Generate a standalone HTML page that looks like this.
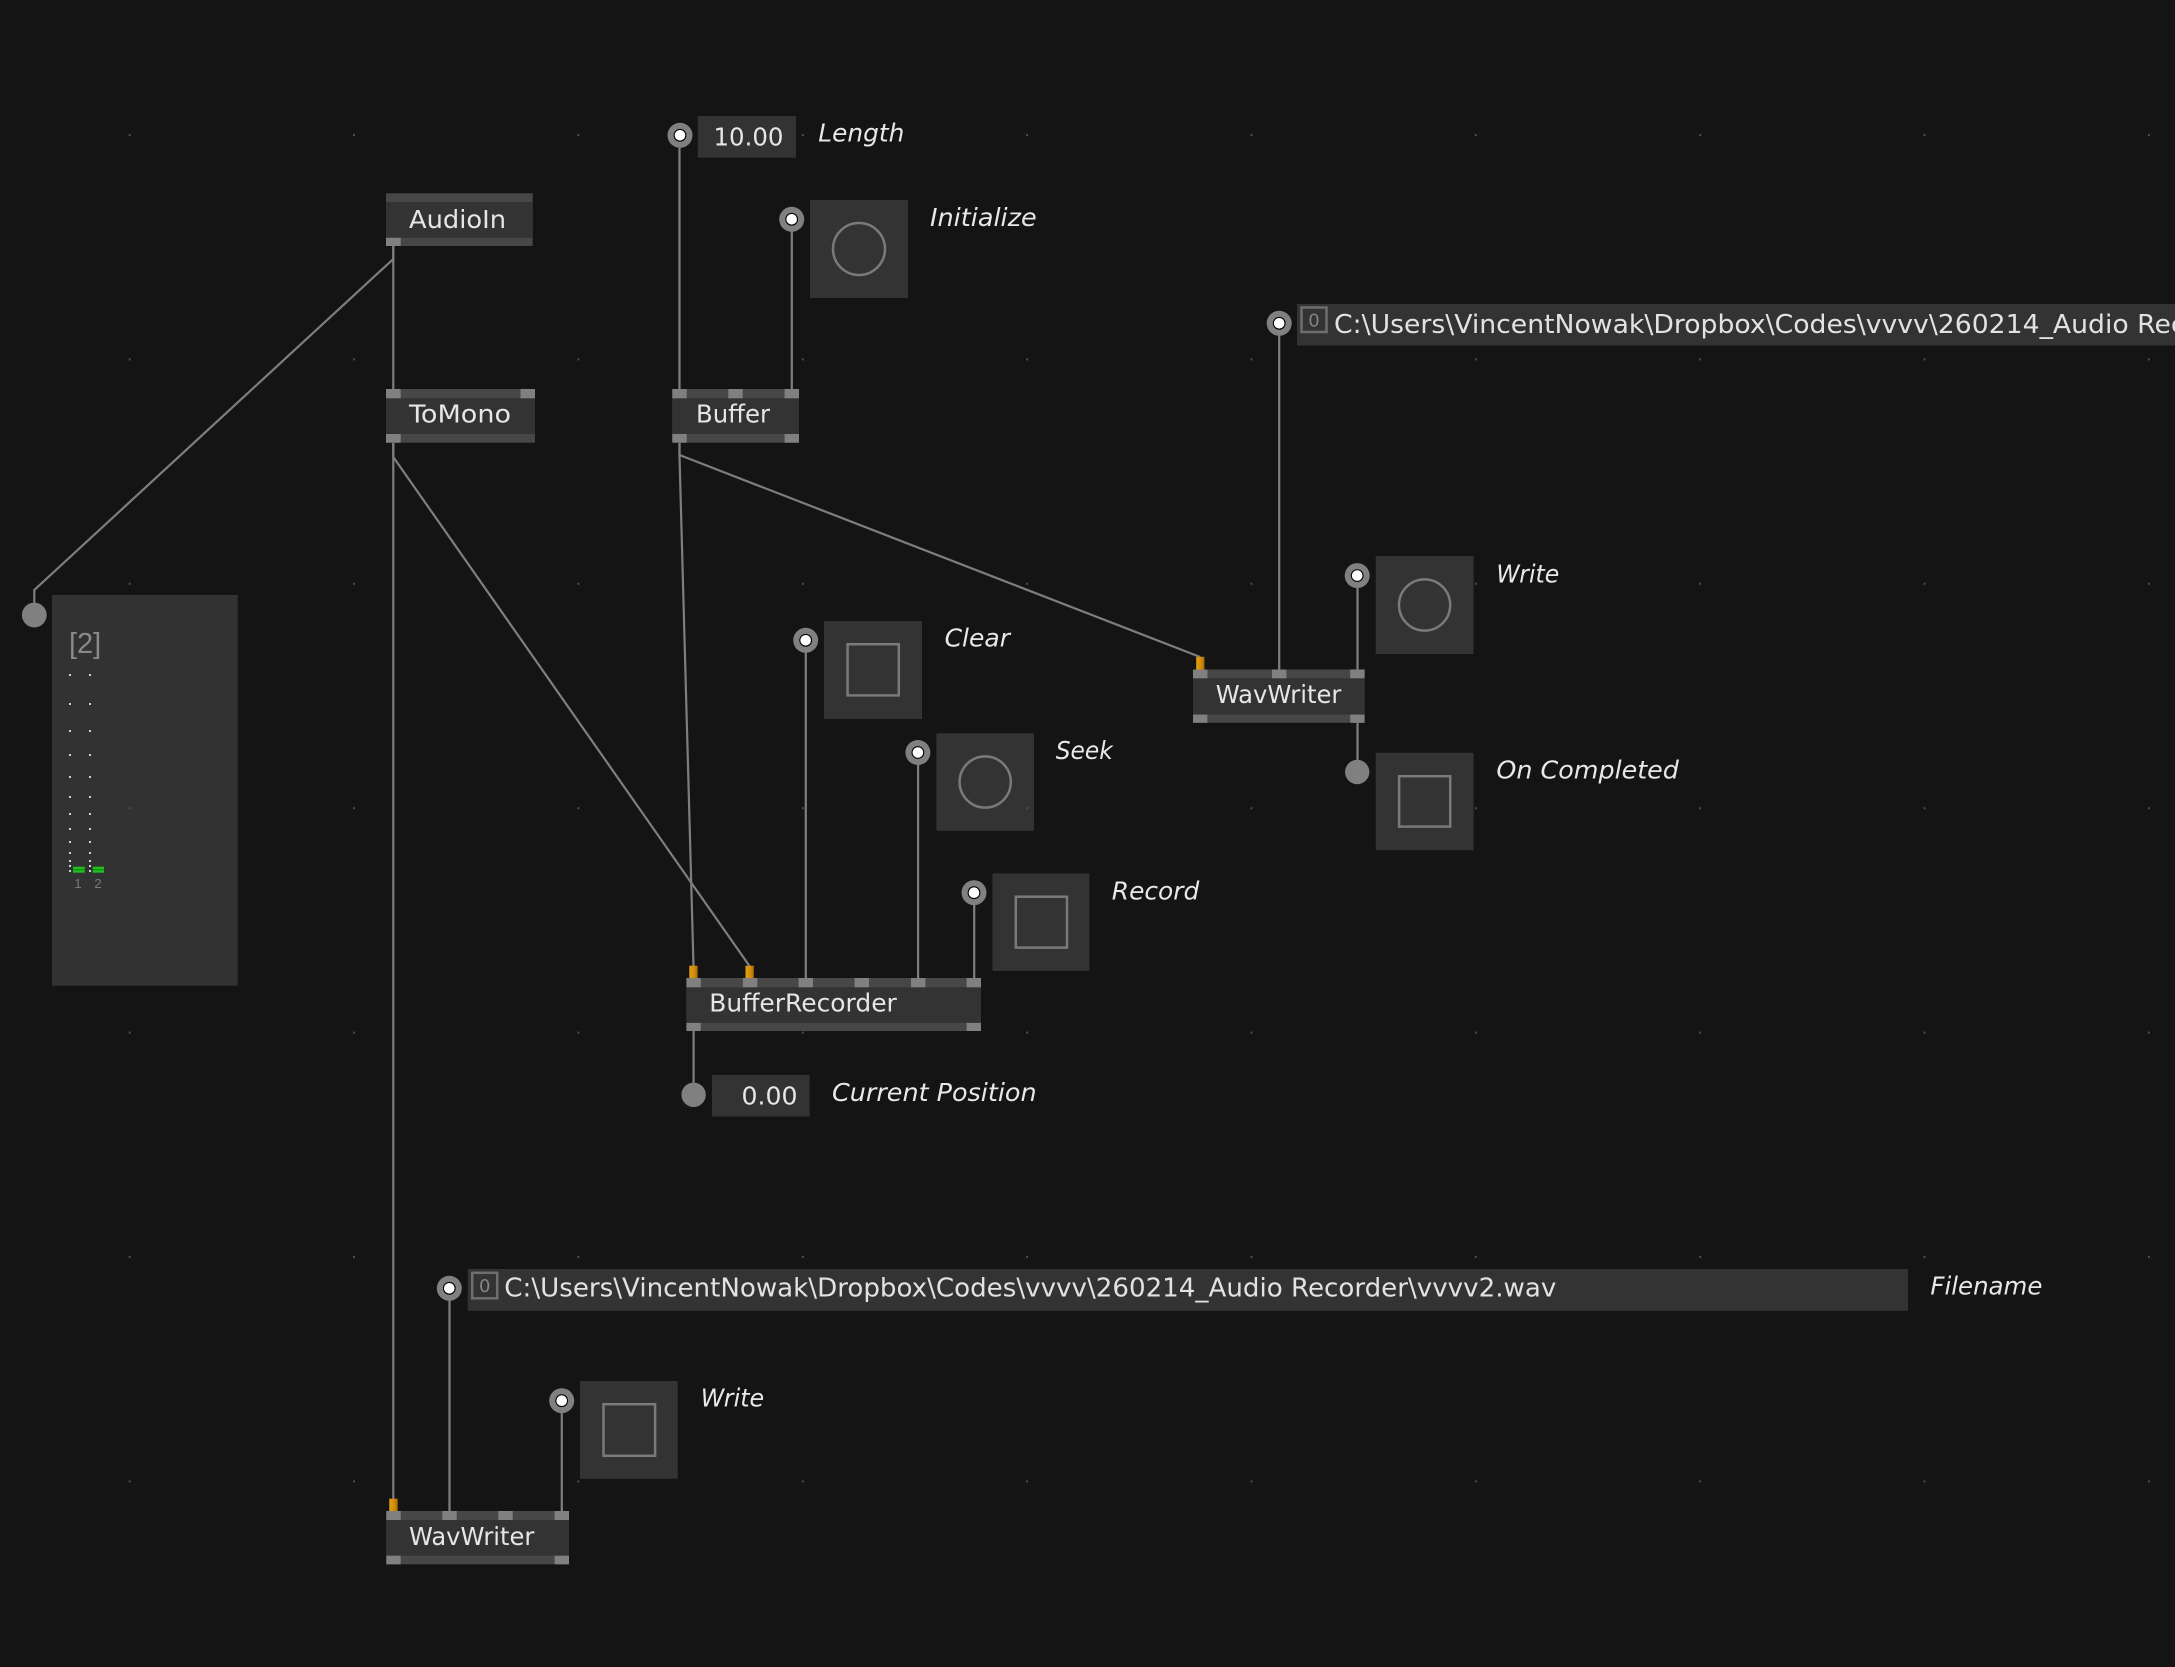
<!DOCTYPE html>
<html>
<head>
<meta charset="utf-8">
<style>
  html, body { margin:0; padding:0; background:#141414; overflow:hidden; }
  svg { display:block; }
  .node { font-family: "DejaVu Sans", "Liberation Sans", sans-serif; font-size:25px; fill:#e6e6e6; }
  .lbl { font-family: "DejaVu Sans", "Liberation Sans", sans-serif; font-style:italic; font-size:25px; fill:#e8e8e8; }
  .val { font-family: "DejaVu Sans", "Liberation Sans", sans-serif; font-size:25px; fill:#e6e6e6; }
  .path { font-family: "DejaVu Sans", "Liberation Sans", sans-serif; font-size:26px; fill:#e2e2e2; }
</style>
</head>
<body>
<svg width="2175" height="1667" viewBox="0 0 2175 1667" xmlns="http://www.w3.org/2000/svg">
  <defs>
    <linearGradient id="og" x1="0" y1="0" x2="1" y2="0">
      <stop offset="0" stop-color="#e4a010"/>
      <stop offset="0.6" stop-color="#d08c0c"/>
      <stop offset="1" stop-color="#a86c08"/>
    </linearGradient>
  </defs>
  <rect x="0" y="0" width="2175" height="1667" fill="#141414"/>

  <!-- Renderer -->
  <rect x="52" y="595" width="185.7" height="390.7" fill="#323232"/>
  <text x="69" y="653" font-family="'Liberation Sans', sans-serif" font-size="29" fill="#8a8a8a">[2]</text>
  <g fill="#cfcfcf">
    <rect x="69" y="674" width="2" height="2"/><rect x="89" y="674" width="2" height="2"/>
    <rect x="69" y="703" width="2" height="2"/><rect x="89" y="703" width="2" height="2"/>
    <rect x="69" y="730" width="2" height="2"/><rect x="89" y="730" width="2" height="2"/>
    <rect x="69" y="754" width="2" height="2"/><rect x="89" y="754" width="2" height="2"/>
    <rect x="69" y="776" width="2" height="2"/><rect x="89" y="776" width="2" height="2"/>
    <rect x="69" y="796" width="2" height="2"/><rect x="89" y="796" width="2" height="2"/>
    <rect x="69" y="813" width="2" height="2"/><rect x="89" y="813" width="2" height="2"/>
    <rect x="69" y="828" width="2" height="2"/><rect x="89" y="828" width="2" height="2"/>
    <rect x="69" y="841" width="2" height="2"/><rect x="89" y="841" width="2" height="2"/>
    <rect x="69" y="852" width="2" height="2"/><rect x="89" y="852" width="2" height="2"/>
    <rect x="69" y="860" width="2" height="2"/><rect x="89" y="860" width="2" height="2"/>
    <rect x="69" y="865" width="2" height="2"/><rect x="89" y="865" width="2" height="2"/>
    <rect x="69" y="870" width="2" height="2"/><rect x="89" y="870" width="2" height="2"/>
  </g>
  <rect x="73" y="866.7" width="11.7" height="6" fill="#1fc01f"/>
  <rect x="92.7" y="866.7" width="11.3" height="6" fill="#1fc01f"/>
  <rect x="73" y="869.3" width="11.7" height="0.9" fill="#0f7a0f"/>
  <rect x="92.7" y="869.3" width="11.3" height="0.9" fill="#0f7a0f"/>
  <text x="78" y="888" font-family="'Liberation Sans', sans-serif" font-size="13" fill="#7a7a7a" text-anchor="middle">1</text>
  <text x="98" y="888" font-family="'Liberation Sans', sans-serif" font-size="13" fill="#7a7a7a" text-anchor="middle">2</text>

  <!-- Links -->
  <g stroke="#7e7e7e" stroke-width="2.2" fill="none">
    <polyline points="393.3,246 393.3,259 34.3,590 34.3,603"/>
    <line x1="393.3" y1="246" x2="393.3" y2="389"/>
    <line x1="393.3" y1="443" x2="393.3" y2="1499"/>
    <polyline points="393.3,443 393.3,457 749.5,966"/>
    <polyline points="679.5,443 679.5,456 693.5,966"/>
    <polyline points="679.5,443 679.5,455 1200.2,657"/>
    <line x1="679.5" y1="135" x2="679.5" y2="389"/>
    <line x1="791.8" y1="219" x2="791.8" y2="389"/>
    <line x1="805.8" y1="640" x2="805.8" y2="978"/>
    <line x1="918.1" y1="752" x2="918.1" y2="978"/>
    <line x1="974.2" y1="892" x2="974.2" y2="978"/>
    <line x1="693.6" y1="1031" x2="693.6" y2="1090"/>
    <line x1="1279.2" y1="323" x2="1279.2" y2="669.5"/>
    <line x1="1357.5" y1="575" x2="1357.5" y2="669.5"/>
    <line x1="1357.5" y1="722.8" x2="1357.5" y2="770"/>
    <line x1="449.5" y1="1288" x2="449.5" y2="1511"/>
    <line x1="561.8" y1="1400" x2="561.8" y2="1511"/>
  </g>

  <!-- Orange stubs -->
  <rect x="689.3" y="965.7" width="8.3" height="12.5" fill="url(#og)"/>
  <rect x="745.5" y="965.7" width="8.3" height="12.5" fill="url(#og)"/>
  <rect x="1196.2" y="656.8" width="8.2" height="12.7" fill="url(#og)"/>
  <rect x="389.3" y="1498.7" width="8.4" height="12.3" fill="url(#og)"/>

  <!-- AudioIn -->
  <rect x="386" y="193.3" width="146.7" height="52.7" fill="#474747"/>
  <rect x="386" y="202" width="146.7" height="35.8" fill="#333333"/>
  <rect x="386" y="237.8" width="14.7" height="8.2" fill="#808080"/>
  <text class="node" x="409" y="228" textLength="97" lengthAdjust="spacingAndGlyphs">AudioIn</text>

  <!-- ToMono -->
  <rect x="386" y="389" width="149" height="53.7" fill="#474747"/>
  <rect x="386" y="398.3" width="149" height="35.7" fill="#333333"/>
  <rect x="386" y="389" width="14.7" height="9.3" fill="#808080"/>
  <rect x="520.5" y="389" width="14.5" height="9.3" fill="#808080"/>
  <rect x="386" y="434" width="14.7" height="8.7" fill="#808080"/>
  <text class="node" x="409" y="422.7" textLength="102" lengthAdjust="spacingAndGlyphs">ToMono</text>

  <!-- Buffer -->
  <rect x="672.3" y="389" width="126.7" height="53.7" fill="#474747"/>
  <rect x="672.3" y="398.3" width="126.7" height="35.7" fill="#333333"/>
  <rect x="672.3" y="389" width="14.4" height="9.3" fill="#808080"/>
  <rect x="728.3" y="389" width="14.4" height="9.3" fill="#808080"/>
  <rect x="784.6" y="389" width="14.4" height="9.3" fill="#808080"/>
  <rect x="672.3" y="434" width="14.4" height="8.7" fill="#808080"/>
  <rect x="784.6" y="434" width="14.4" height="8.7" fill="#808080"/>
  <text class="node" x="696" y="422.7" textLength="74" lengthAdjust="spacingAndGlyphs">Buffer</text>

  <!-- BufferRecorder -->
  <rect x="686.4" y="978" width="294.6" height="53" fill="#474747"/>
  <rect x="686.4" y="987.3" width="294.6" height="35.6" fill="#333333"/>
  <g fill="#808080">
    <rect x="686.4" y="978" width="14.4" height="9.3"/>
    <rect x="742.9" y="978" width="14.4" height="9.3"/>
    <rect x="798.6" y="978" width="14.4" height="9.3"/>
    <rect x="854.6" y="978" width="14.4" height="9.3"/>
    <rect x="911" y="978" width="14.4" height="9.3"/>
    <rect x="966.6" y="978" width="14.4" height="9.3"/>
    <rect x="686.4" y="1022.9" width="14.4" height="8.1"/>
    <rect x="966.6" y="1022.9" width="14.4" height="8.1"/>
  </g>
  <text class="node" x="709.3" y="1011.5" textLength="187.5" lengthAdjust="spacingAndGlyphs">BufferRecorder</text>

  <!-- WavWriter (top right) -->
  <rect x="1193" y="669.5" width="171.6" height="53.3" fill="#474747"/>
  <rect x="1193" y="678.3" width="171.6" height="36.3" fill="#333333"/>
  <g fill="#808080">
    <rect x="1193" y="669.5" width="14.4" height="8.8"/>
    <rect x="1272" y="669.5" width="14.4" height="8.8"/>
    <rect x="1350.2" y="669.5" width="14.4" height="8.8"/>
    <rect x="1193" y="714.6" width="14.4" height="8.2"/>
    <rect x="1350.2" y="714.6" width="14.4" height="8.2"/>
  </g>
  <text class="node" x="1215.7" y="702.8" textLength="125.7" lengthAdjust="spacingAndGlyphs">WavWriter</text>

  <!-- WavWriter (bottom) -->
  <rect x="386.3" y="1511" width="182.7" height="53.3" fill="#474747"/>
  <rect x="386.3" y="1520" width="182.7" height="35.7" fill="#333333"/>
  <g fill="#808080">
    <rect x="386.3" y="1511" width="14.4" height="9"/>
    <rect x="442.3" y="1511" width="14.4" height="9"/>
    <rect x="498.3" y="1511" width="14.4" height="9"/>
    <rect x="554.6" y="1511" width="14.4" height="9"/>
    <rect x="386.3" y="1555.7" width="14.4" height="8.6"/>
    <rect x="554.6" y="1555.7" width="14.4" height="8.6"/>
  </g>
  <text class="node" x="409" y="1545" textLength="125.3" lengthAdjust="spacingAndGlyphs">WavWriter</text>

  <!-- IOBox: Length -->
  <rect x="697.7" y="116" width="98.3" height="41.7" fill="#333333"/>
  <text class="val" x="783.5" y="145.3" text-anchor="end" textLength="70" lengthAdjust="spacingAndGlyphs">10.00</text>
  <text class="lbl" x="818.3" y="141.7" textLength="86" lengthAdjust="spacingAndGlyphs">Length</text>

  <!-- IOBox: Initialize -->
  <rect x="810" y="200" width="98" height="98" fill="#333333"/>
  <circle cx="859" cy="249" r="26" fill="none" stroke="#7a7a7a" stroke-width="2.5"/>
  <text class="lbl" x="930" y="226" textLength="106.7" lengthAdjust="spacingAndGlyphs">Initialize</text>

  <!-- IOBox: Clear -->
  <rect x="824" y="621" width="98" height="98" fill="#333333"/>
  <rect x="847.6" y="644.2" width="51.2" height="51.2" fill="none" stroke="#7a7a7a" stroke-width="2.5"/>
  <text class="lbl" x="944.6" y="646.5" textLength="65.4" lengthAdjust="spacingAndGlyphs">Clear</text>

  <!-- IOBox: Seek -->
  <rect x="936.4" y="733.3" width="97.6" height="97.4" fill="#333333"/>
  <circle cx="985.2" cy="782" r="25.6" fill="none" stroke="#7a7a7a" stroke-width="2.5"/>
  <text class="lbl" x="1055.7" y="759" textLength="57.1" lengthAdjust="spacingAndGlyphs">Seek</text>

  <!-- IOBox: Record -->
  <rect x="992.5" y="873.4" width="96.8" height="97.5" fill="#333333"/>
  <rect x="1015.8" y="896.7" width="51.2" height="50.9" fill="none" stroke="#7a7a7a" stroke-width="2.5"/>
  <text class="lbl" x="1111.8" y="899.6" textLength="87.5" lengthAdjust="spacingAndGlyphs">Record</text>

  <!-- IOBox: Current Position -->
  <rect x="712" y="1075" width="97.6" height="41.5" fill="#333333"/>
  <text class="val" x="797.5" y="1104.5" text-anchor="end" textLength="56" lengthAdjust="spacingAndGlyphs">0.00</text>
  <text class="lbl" x="832" y="1101" textLength="204.6" lengthAdjust="spacingAndGlyphs">Current Position</text>

  <!-- IOBox: Write (top) -->
  <rect x="1375.7" y="556" width="97.9" height="98" fill="#333333"/>
  <circle cx="1424.6" cy="605" r="25.6" fill="none" stroke="#7a7a7a" stroke-width="2.5"/>
  <text class="lbl" x="1496.4" y="582.6" textLength="62.9" lengthAdjust="spacingAndGlyphs">Write</text>

  <!-- IOBox: On Completed -->
  <rect x="1375.7" y="752.8" width="97.9" height="97.4" fill="#333333"/>
  <rect x="1399.1" y="776.2" width="51.1" height="50.4" fill="none" stroke="#7a7a7a" stroke-width="2.5"/>
  <text class="lbl" x="1496.4" y="778.7" textLength="182.5" lengthAdjust="spacingAndGlyphs">On Completed</text>

  <!-- IOBox: Write (bottom) -->
  <rect x="580" y="1381" width="97.7" height="97.7" fill="#333333"/>
  <rect x="603.5" y="1404.2" width="51.6" height="51.6" fill="none" stroke="#7a7a7a" stroke-width="2.5"/>
  <text class="lbl" x="700.7" y="1406.7" textLength="63.5" lengthAdjust="spacingAndGlyphs">Write</text>

  <!-- Filename (top) -->
  <rect x="1297" y="304" width="878" height="41.5" fill="#333333"/>
  <rect x="1301.5" y="307.5" width="25" height="24.5" fill="none" stroke="#6e6e6e" stroke-width="2.5"/>
  <text x="1314" y="326.5" font-family="'DejaVu Sans', sans-serif" font-size="18" fill="#858585" text-anchor="middle">0</text>
  <text class="path" x="1334" y="333" textLength="1074" lengthAdjust="spacingAndGlyphs">C:\Users\VincentNowak\Dropbox\Codes\vvvv\260214_Audio Recorder\vvvv1.wav</text>

  <!-- Filename (bottom) -->
  <rect x="467.7" y="1269" width="1440.3" height="41.7" fill="#333333"/>
  <rect x="472.2" y="1272.8" width="25" height="25.5" fill="none" stroke="#6e6e6e" stroke-width="2.5"/>
  <text x="484.7" y="1292" font-family="'DejaVu Sans', sans-serif" font-size="18" fill="#858585" text-anchor="middle">0</text>
  <text class="path" x="504.3" y="1296.7" textLength="1052" lengthAdjust="spacingAndGlyphs">C:\Users\VincentNowak\Dropbox\Codes\vvvv\260214_Audio Recorder\vvvv2.wav</text>
  <text class="lbl" x="1930.4" y="1294.3" textLength="112" lengthAdjust="spacingAndGlyphs">Filename</text>

  <!-- Input pins (IOBox) -->
  <g>
    <g transform="translate(680,135.3)"><circle r="12.5" fill="#808080"/><circle r="6.4" fill="#000"/><circle r="5.3" fill="#fff"/></g>
    <g transform="translate(791.7,219.3)"><circle r="12.5" fill="#808080"/><circle r="6.4" fill="#000"/><circle r="5.3" fill="#fff"/></g>
    <g transform="translate(805.7,640.3)"><circle r="12.5" fill="#808080"/><circle r="6.4" fill="#000"/><circle r="5.3" fill="#fff"/></g>
    <g transform="translate(917.9,752.5)"><circle r="12.5" fill="#808080"/><circle r="6.4" fill="#000"/><circle r="5.3" fill="#fff"/></g>
    <g transform="translate(974,892.7)"><circle r="12.5" fill="#808080"/><circle r="6.4" fill="#000"/><circle r="5.3" fill="#fff"/></g>
    <g transform="translate(1279.2,323.3)"><circle r="12.5" fill="#808080"/><circle r="6.4" fill="#000"/><circle r="5.3" fill="#fff"/></g>
    <g transform="translate(1357.2,575.6)"><circle r="12.5" fill="#808080"/><circle r="6.4" fill="#000"/><circle r="5.3" fill="#fff"/></g>
    <g transform="translate(449.3,1288.3)"><circle r="12.5" fill="#808080"/><circle r="6.4" fill="#000"/><circle r="5.3" fill="#fff"/></g>
    <g transform="translate(561.7,1400.7)"><circle r="12.5" fill="#808080"/><circle r="6.4" fill="#000"/><circle r="5.3" fill="#fff"/></g>
  </g>
  <!-- Solid pins -->
  <circle cx="34.3" cy="615" r="12.4" fill="#808080"/>
  <circle cx="693.6" cy="1094.8" r="12.2" fill="#808080"/>
  <circle cx="1357.2" cy="772" r="12.2" fill="#808080"/>

  <!-- Grid dots -->
  <g fill="#4e4e4e">
    <rect x="128.7" y="134" width="2" height="2"/><rect x="353" y="134" width="2" height="2"/><rect x="577.4" y="134" width="2" height="2"/><rect x="801.8" y="134" width="2" height="2"/><rect x="1026.1" y="134" width="2" height="2"/><rect x="1250.5" y="134" width="2" height="2"/><rect x="1474.8" y="134" width="2" height="2"/><rect x="1699.2" y="134" width="2" height="2"/><rect x="1923.5" y="134" width="2" height="2"/><rect x="2147.9" y="134" width="2" height="2"/>
    <rect x="128.7" y="358.4" width="2" height="2"/><rect x="353" y="358.4" width="2" height="2"/><rect x="577.4" y="358.4" width="2" height="2"/><rect x="801.8" y="358.4" width="2" height="2"/><rect x="1026.1" y="358.4" width="2" height="2"/><rect x="1250.5" y="358.4" width="2" height="2"/><rect x="1474.8" y="358.4" width="2" height="2"/><rect x="1699.2" y="358.4" width="2" height="2"/><rect x="1923.5" y="358.4" width="2" height="2"/><rect x="2147.9" y="358.4" width="2" height="2"/>
    <rect x="128.7" y="582.8" width="2" height="2"/><rect x="353" y="582.8" width="2" height="2"/><rect x="577.4" y="582.8" width="2" height="2"/><rect x="801.8" y="582.8" width="2" height="2"/><rect x="1026.1" y="582.8" width="2" height="2"/><rect x="1250.5" y="582.8" width="2" height="2"/><rect x="1474.8" y="582.8" width="2" height="2"/><rect x="1699.2" y="582.8" width="2" height="2"/><rect x="1923.5" y="582.8" width="2" height="2"/><rect x="2147.9" y="582.8" width="2" height="2"/>
    <rect x="128.7" y="807.2" width="2" height="2"/><rect x="353" y="807.2" width="2" height="2"/><rect x="577.4" y="807.2" width="2" height="2"/><rect x="801.8" y="807.2" width="2" height="2"/><rect x="1026.1" y="807.2" width="2" height="2"/><rect x="1250.5" y="807.2" width="2" height="2"/><rect x="1474.8" y="807.2" width="2" height="2"/><rect x="1699.2" y="807.2" width="2" height="2"/><rect x="1923.5" y="807.2" width="2" height="2"/><rect x="2147.9" y="807.2" width="2" height="2"/>
    <rect x="128.7" y="1031.6" width="2" height="2"/><rect x="353" y="1031.6" width="2" height="2"/><rect x="577.4" y="1031.6" width="2" height="2"/><rect x="801.8" y="1031.6" width="2" height="2"/><rect x="1026.1" y="1031.6" width="2" height="2"/><rect x="1250.5" y="1031.6" width="2" height="2"/><rect x="1474.8" y="1031.6" width="2" height="2"/><rect x="1699.2" y="1031.6" width="2" height="2"/><rect x="1923.5" y="1031.6" width="2" height="2"/><rect x="2147.9" y="1031.6" width="2" height="2"/>
    <rect x="128.7" y="1256" width="2" height="2"/><rect x="353" y="1256" width="2" height="2"/><rect x="577.4" y="1256" width="2" height="2"/><rect x="801.8" y="1256" width="2" height="2"/><rect x="1026.1" y="1256" width="2" height="2"/><rect x="1250.5" y="1256" width="2" height="2"/><rect x="1474.8" y="1256" width="2" height="2"/><rect x="1699.2" y="1256" width="2" height="2"/><rect x="1923.5" y="1256" width="2" height="2"/><rect x="2147.9" y="1256" width="2" height="2"/>
    <rect x="128.7" y="1480.4" width="2" height="2"/><rect x="353" y="1480.4" width="2" height="2"/><rect x="577.4" y="1480.4" width="2" height="2"/><rect x="801.8" y="1480.4" width="2" height="2"/><rect x="1026.1" y="1480.4" width="2" height="2"/><rect x="1250.5" y="1480.4" width="2" height="2"/><rect x="1474.8" y="1480.4" width="2" height="2"/><rect x="1699.2" y="1480.4" width="2" height="2"/><rect x="1923.5" y="1480.4" width="2" height="2"/><rect x="2147.9" y="1480.4" width="2" height="2"/>
  </g>
</svg>
</body>
</html>
